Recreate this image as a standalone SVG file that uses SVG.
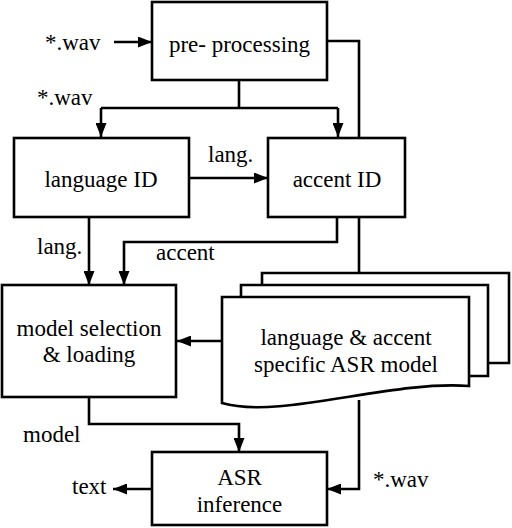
<svg xmlns="http://www.w3.org/2000/svg" width="512" height="528" viewBox="0 0 512 528">
<defs>
<marker id="ah" markerUnits="userSpaceOnUse" markerWidth="14" markerHeight="11" refX="14" refY="5.5" orient="auto">
<path d="M0,0 L14,5.5 L0,11 z" fill="#000"/>
</marker>
</defs>
<rect width="512" height="528" fill="#fff"/>
<g id="connectors" fill="none" stroke="#000" stroke-width="2.6">
<path d="M114,42 H152" marker-end="url(#ah)"/>
<path d="M239,80 V108 M101,108 H338"/>
<path d="M101,108 V137" marker-end="url(#ah)"/>
<path d="M338,108 V137" marker-end="url(#ah)"/>
<path d="M327,41 H359 V273"/>
<path d="M189,178 H268" marker-end="url(#ah)"/>
<path d="M89,217 V285" marker-end="url(#ah)"/>
<path d="M337,217 V242 H124 V285" marker-end="url(#ah)"/>
<path d="M222,341 H177" marker-end="url(#ah)"/>
<path d="M359,400 V489 H327" marker-end="url(#ah)"/>
<path d="M89,397 V424 H239 V452" marker-end="url(#ah)"/>
<path d="M152,489 H113" marker-end="url(#ah)"/>
</g>
<g stroke="#000" stroke-width="2.6" fill="#fff">
<g id="preprocessing">
<rect x="152" y="2" width="175" height="78"/>
<text font-family="Liberation Serif" font-size="23" fill="#000" stroke="none" text-anchor="middle" x="239.5" y="52">pre- processing</text>
</g>
<g id="languageID">
<rect x="14" y="138" width="175" height="79"/>
<text font-family="Liberation Serif" font-size="23" fill="#000" stroke="none" text-anchor="middle" x="101" y="187">language ID</text>
</g>
<g id="accentID">
<rect x="268" y="138" width="137" height="79"/>
<text font-family="Liberation Serif" font-size="23" fill="#000" stroke="none" text-anchor="middle" x="337" y="187">accent ID</text>
</g>
<g id="modelselection">
<rect x="2" y="285" width="174" height="112"/>
<text font-family="Liberation Serif" font-size="23" fill="#000" stroke="none" text-anchor="middle" x="89" y="336">model selection</text>
<text font-family="Liberation Serif" font-size="23" fill="#000" stroke="none" text-anchor="middle" x="89" y="362">&amp; loading</text>
</g>
<g id="asrmodels">
<path fill="none" d="M262,285 V273 H509 V363 H488"/>
<path fill="none" d="M241,297 V285 H488 V376 H469"/>
<path d="M222,297 H469 V386 C390,380 280,420 222,403 Z"/>
<text font-family="Liberation Serif" font-size="23" fill="#000" stroke="none" text-anchor="middle" x="346" y="345">language &amp; accent</text>
<text font-family="Liberation Serif" font-size="23" fill="#000" stroke="none" text-anchor="middle" x="346" y="372">specific ASR model</text>
</g>
<g id="asrinference">
<rect x="152" y="452" width="175" height="73"/>
<text font-family="Liberation Serif" font-size="23" fill="#000" stroke="none" text-anchor="middle" x="239.5" y="485">ASR</text>
<text font-family="Liberation Serif" font-size="23" fill="#000" stroke="none" text-anchor="middle" x="239.5" y="512">inference</text>
</g>
</g>
<g id="labels" fill="#000">
<text font-family="Liberation Serif" font-size="23" x="45" y="50">*.wav</text>
<text font-family="Liberation Serif" font-size="23" x="37" y="105">*.wav</text>
<text font-family="Liberation Serif" font-size="23" x="208" y="162">lang.</text>
<text font-family="Liberation Serif" font-size="23" x="37" y="254">lang.</text>
<text font-family="Liberation Serif" font-size="23" x="156" y="260">accent</text>
<text font-family="Liberation Serif" font-size="23" x="23" y="442">model</text>
<text font-family="Liberation Serif" font-size="23" x="72" y="494">text</text>
<text font-family="Liberation Serif" font-size="23" x="373" y="487">*.wav</text>
</g>
</svg>
